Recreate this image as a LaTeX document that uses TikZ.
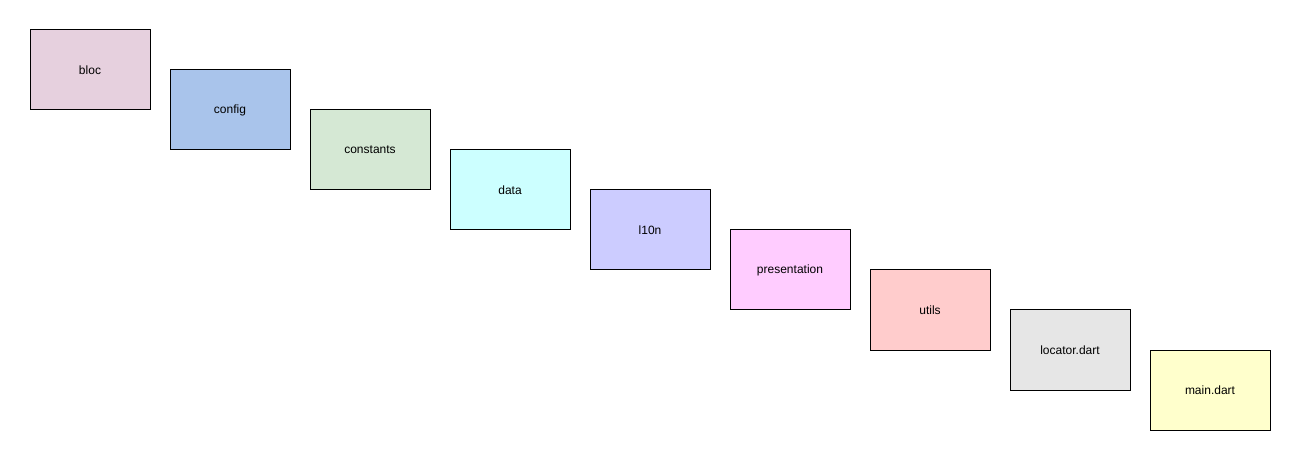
\documentclass[tikz,border=0pt]{standalone}
\usepackage{fontspec}
\setmainfont{Liberation Sans}
\usepackage{tikz}
\usetikzlibrary{positioning}
\definecolor{blocpink}{RGB}{230,208,222}
\definecolor{configblue}{RGB}{169,196,235}
\definecolor{constgreen}{RGB}{213,232,212}
\definecolor{datacyan}{RGB}{204,255,255}
\definecolor{lionlilac}{RGB}{204,204,255}
\definecolor{presmagenta}{RGB}{255,204,255}
\definecolor{utilsred}{RGB}{255,204,204}
\definecolor{locgray}{RGB}{230,230,230}
\definecolor{mainyellow}{RGB}{255,255,204}
\tikzset{
  folder/.style={rectangle, draw=black, line width=0.75pt,
    minimum width=90pt, minimum height=60pt, outer sep=0pt,
    inner sep=0pt, font=\fontsize{9}{11}\selectfont},
  stair/.style={below right=30pt and 15pt of #1}
}
\begin{document}
\begin{tikzpicture}[x=0.75pt, y=0.75pt]
  \useasboundingbox (0,0) rectangle (1310,-470);
  % Folders
  \node[folder, fill=blocpink, anchor=north west] (bloc) at (30,-30) {bloc};
  \node[folder, fill=configblue, stair=bloc.north east] (config) {config};
  \node[folder, fill=constgreen, stair=config.north east] (constants) {constants};
  \node[folder, fill=datacyan, stair=constants.north east] (data) {data};
  \node[folder, fill=lionlilac, stair=data.north east] (lion) {l10n};
  \node[folder, fill=presmagenta, stair=lion.north east] (presentation) {presentation};
  \node[folder, fill=utilsred, stair=presentation.north east] (utils) {utils};
  % Files
  \node[folder, fill=locgray, stair=utils.north east] (locator) {locator.dart};
  \node[folder, fill=mainyellow, stair=locator.north east] (main) {main.dart};
\end{tikzpicture}
\end{document}
